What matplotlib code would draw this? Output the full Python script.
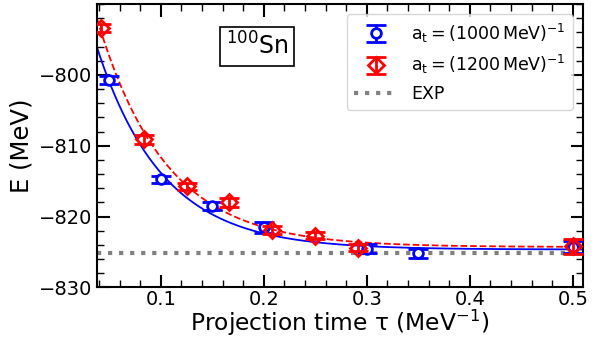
import numpy as np
import matplotlib.pyplot as plt
from matplotlib.ticker import MultipleLocator

# imaginary time step a_t = (1000 MeV)^-1
tau_1000 = [0.05, 0.10, 0.15, 0.20, 0.30, 0.35, 0.50]
E_1000 = [-800.7, -814.7, -818.5, -821.5, -824.5, -825.2, -824.3]
err_1000 = [0.6, 0.5, 0.6, 0.8, 0.6, 0.7, 0.8]

# imaginary time step a_t = (1200 MeV)^-1
tau_1200 = [1/24, 1/12, 1/8, 1/6, 5/24, 1/4, 7/24, 0.50]
E_1200 = [-793.4, -809.1, -815.7, -818.0, -821.9, -822.7, -824.4, -824.2]
err_1200 = [0.6, 0.6, 0.5, 0.6, 0.6, 0.5, 0.5, 1.1]

E_exp = -825.1


def ajuste_exp(t, E, s):
    # E(t) = a + b*exp(-t/c), busqueda en c y minimos cuadrados para a, b
    t = np.array(t); E = np.array(E); w = 1/np.array(s)
    mejor = None
    for c in np.linspace(0.01, 0.3, 2000):
        A = np.vstack([np.ones_like(t), np.exp(-t/c)]).T
        coef, *_ = np.linalg.lstsq(A*w[:, None], E*w, rcond=None)
        chi = np.sum(((A @ coef - E)*w)**2)
        if mejor is None or chi < mejor[0]:
            mejor = (chi, coef[0], coef[1], c)
    return mejor[1:]


fig = plt.figure(figsize=(5.95, 3.39), dpi=100)
ax = fig.add_axes([0.163, 0.152, 0.817, 0.836])

t_fino = np.linspace(0.038, 0.51, 400)
a1, b1, c1 = ajuste_exp(tau_1000, E_1000, err_1000)
a2, b2, c2 = ajuste_exp(tau_1200, E_1200, err_1200)
ax.plot(t_fino, a1 + b1*np.exp(-t_fino/c1), color='blue', lw=1.3, zorder=2)
ax.plot(t_fino, a2 + b2*np.exp(-t_fino/c2), color='red', lw=1.3, ls='--', zorder=2)

ax.axhline(E_exp, color='gray', ls=':', lw=3, label='EXP', zorder=1)

ax.errorbar(tau_1000, E_1000, yerr=err_1000, fmt='o', color='blue', mfc='white',
            mec='blue', ms=7, mew=2, capsize=7, capthick=2.5, elinewidth=2,
            label=r'$\mathrm{a_t = (1000\,MeV)^{-1}}$', zorder=3)
ax.errorbar(tau_1200, E_1200, yerr=err_1200, fmt='D', color='red', mfc='none',
            mec='red', ms=8, mew=2, capsize=7, capthick=2.5, elinewidth=2,
            label=r'$\mathrm{a_t = (1200\,MeV)^{-1}}$', zorder=4)

ax.set_xlim(0.038, 0.51)
ax.set_ylim(-830, -790)
ax.set_xticks([0.1, 0.2, 0.3, 0.4, 0.5])
ax.set_yticks([-830, -820, -810, -800])
ax.xaxis.set_minor_locator(MultipleLocator(0.02))
ax.yaxis.set_minor_locator(MultipleLocator(2))
ax.tick_params(which='both', direction='in', top=True, right=True, labelsize=14)
ax.tick_params(which='major', length=9, width=1.5)
ax.tick_params(which='minor', length=5, width=1)
ax.tick_params(axis='x', which='major', pad=2)
for sp in ax.spines.values():
    sp.set_linewidth(1.5)

ax.set_xlabel('Projection time τ (MeV$^{-1}$)', fontsize=16.8, labelpad=-1)
ax.set_ylabel('E (MeV)', fontsize=17.5, labelpad=4)

ax.text(0.329, 0.852, r'$^{100}$Sn', transform=ax.transAxes, fontsize=17,
        ha='center', va='center',
        bbox=dict(boxstyle='square,pad=0.25', fc='white', ec='black', lw=1.2))

h, l = ax.get_legend_handles_labels()
orden = [1, 2, 0]
ax.legend([h[i] for i in orden], [l[i] for i in orden], loc='upper right',
          fontsize=12.5, handlelength=2.5, borderaxespad=0.6)

fig.savefig('out.png', dpi=100)
